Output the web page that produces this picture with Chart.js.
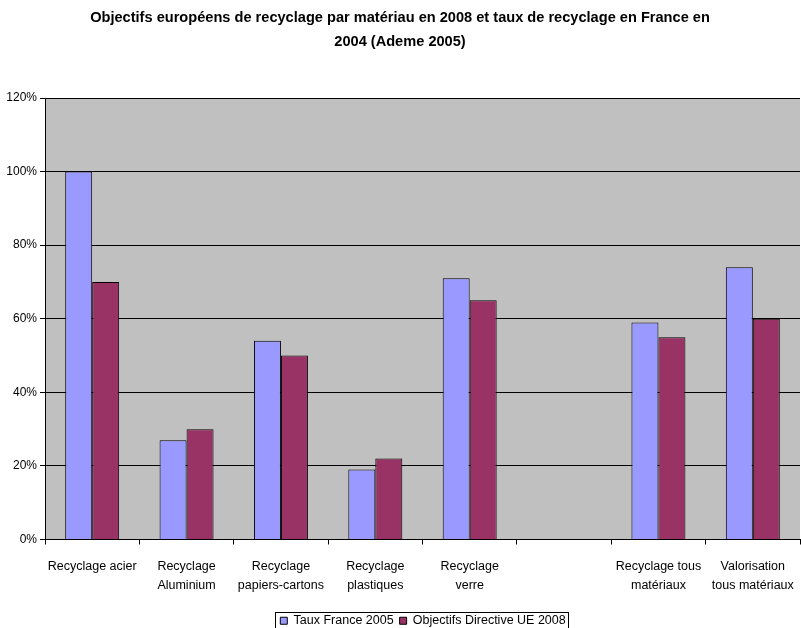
<!DOCTYPE html>
<html>
<head>
<meta charset="utf-8">
<script src="https://cdn.jsdelivr.net/npm/chart.js@4/dist/chart.umd.min.js"></script>
<style>
html,body{margin:0;padding:0;background:#fff;overflow:hidden;}
#wrap{position:relative;width:801px;height:628px;}
</style>
</head>
<body>
<div id="wrap"><canvas id="c"></canvas></div>
<script>
const titleLines = ["Objectifs européens de recyclage par matériau en 2008 et taux de recyclage en France en", "2004 (Ademe 2005)"];
const categories = [["Recyclage acier"], ["Recyclage", "Aluminium"], ["Recyclage", "papiers-cartons"], ["Recyclage", "plastiques"], ["Recyclage", "verre"], "", ["Recyclage tous", "matériaux"], ["Valorisation", "tous matériaux"]];
const seriesNames = ["Taux France 2005", "Objectifs Directive UE 2008"];
const tauxFrance = [1.00, 0.27, 0.54, 0.19, 0.71, null, 0.59, 0.74];
const objectifsUE = [0.70, 0.30, 0.50, 0.22, 0.65, null, 0.55, 0.60];
const yTicks = [0, 0.2, 0.4, 0.6, 0.8, 1.0, 1.2];

const FONT = "'Liberation Sans', Arial, sans-serif";
const LEG_DX = 23, LEG_DY = 9;

const plotBg = {
  id: 'plotBg',
  beforeDraw(chart) {
    const {ctx, chartArea: a} = chart;
    ctx.save();
    ctx.fillStyle = '#C0C0C0';
    ctx.fillRect(a.left, a.top, a.right - a.left, a.bottom - a.top);
    ctx.restore();
  }
};
const legendShift = {
  id: 'legendShift',
  afterLayout(chart) {
    const lg = chart.legend;
    if (!lg) return;
    lg.left += LEG_DX; lg.right += LEG_DX;
    lg.top += LEG_DY; lg.bottom += LEG_DY;
  }
};
const legendBorder = {
  id: 'legendBorder',
  afterDraw(chart) {
    const lg = chart.legend;
    if (!lg || !lg.legendHitBoxes || !lg.legendHitBoxes.length) return;
    const hb = lg.legendHitBoxes;
    let l = Infinity, r = -Infinity, t = Infinity, b = -Infinity;
    hb.forEach(h => { l = Math.min(l, h.left); r = Math.max(r, h.left + h.width); t = Math.min(t, h.top); b = Math.max(b, h.top + h.height); });
    const ctx = chart.ctx;
    ctx.save();
    ctx.strokeStyle = '#000';
    ctx.lineWidth = 1;
    ctx.strokeRect(Math.round(l - 5) + 0.5, Math.round(t - 3) + 0.5, Math.round(r - l + 8), Math.round(b - t + 6));
    ctx.restore();
  }
};

new Chart(document.getElementById('c'), {
  type: 'bar',
  data: {
    labels: categories,
    datasets: [
      { label: seriesNames[0], data: tauxFrance, backgroundColor: '#9999FF', borderColor: '#000', borderWidth: 1, borderSkipped: 'bottom' },
      { label: seriesNames[1], data: objectifsUE, backgroundColor: '#993366', borderColor: '#000', borderWidth: 1, borderSkipped: 'bottom' }
    ]
  },
  options: {
    responsive: true,
    maintainAspectRatio: false,
    animation: false,
    layout: { padding: { left: 0, right: 1, top: 0, bottom: 0 } },
    datasets: { bar: { barPercentage: 1.0, categoryPercentage: 0.572 } },
    plugins: {
      title: {
        display: true,
        text: titleLines,
        color: '#000',
        font: { family: FONT, size: 14.6, weight: 'bold', lineHeight: 24 / 14.6 },
        padding: { top: 6, bottom: 44 }
      },
      legend: {
        display: true,
        position: 'bottom',
        labels: {
          color: '#000',
          font: { family: FONT, size: 12.5 },
          boxWidth: 7,
          boxHeight: 7,
          padding: 6,
          generateLabels(chart) {
            return chart.data.datasets.map((d, i) => ({
              text: d.label, fillStyle: d.backgroundColor, strokeStyle: '#000', lineWidth: 1, datasetIndex: i, hidden: false
            }));
          }
        }
      },
      tooltip: { enabled: false }
    },
    scales: {
      x: {
        afterFit(scale) { scale.height = 60; scale.paddingLeft = 0; scale.paddingRight = 0; },
        grid: { display: true, drawOnChartArea: false, drawTicks: true, tickLength: 5, color: '#000', offset: true },
        border: { display: true, color: '#000' },
        ticks: { color: '#000', font: { family: FONT, size: 12.5, lineHeight: 1.5 }, maxRotation: 0, autoSkip: false, padding: 13 }
      },
      y: {
        min: 0, max: 1.2,
        afterFit(scale) { scale.width = 45; },
        afterBuildTicks(scale) { scale.ticks = yTicks.map(v => ({ value: v })); },
        grid: { color: '#000', lineWidth: 1, drawTicks: true, tickLength: 5 },
        border: { display: true, color: '#000' },
        ticks: { color: '#000', font: { family: FONT, size: 12 }, padding: 3, callback: v => Math.round(v * 100) + '%' }
      }
    }
  },
  plugins: [plotBg, legendShift, legendBorder]
});
</script>
</body>
</html>
